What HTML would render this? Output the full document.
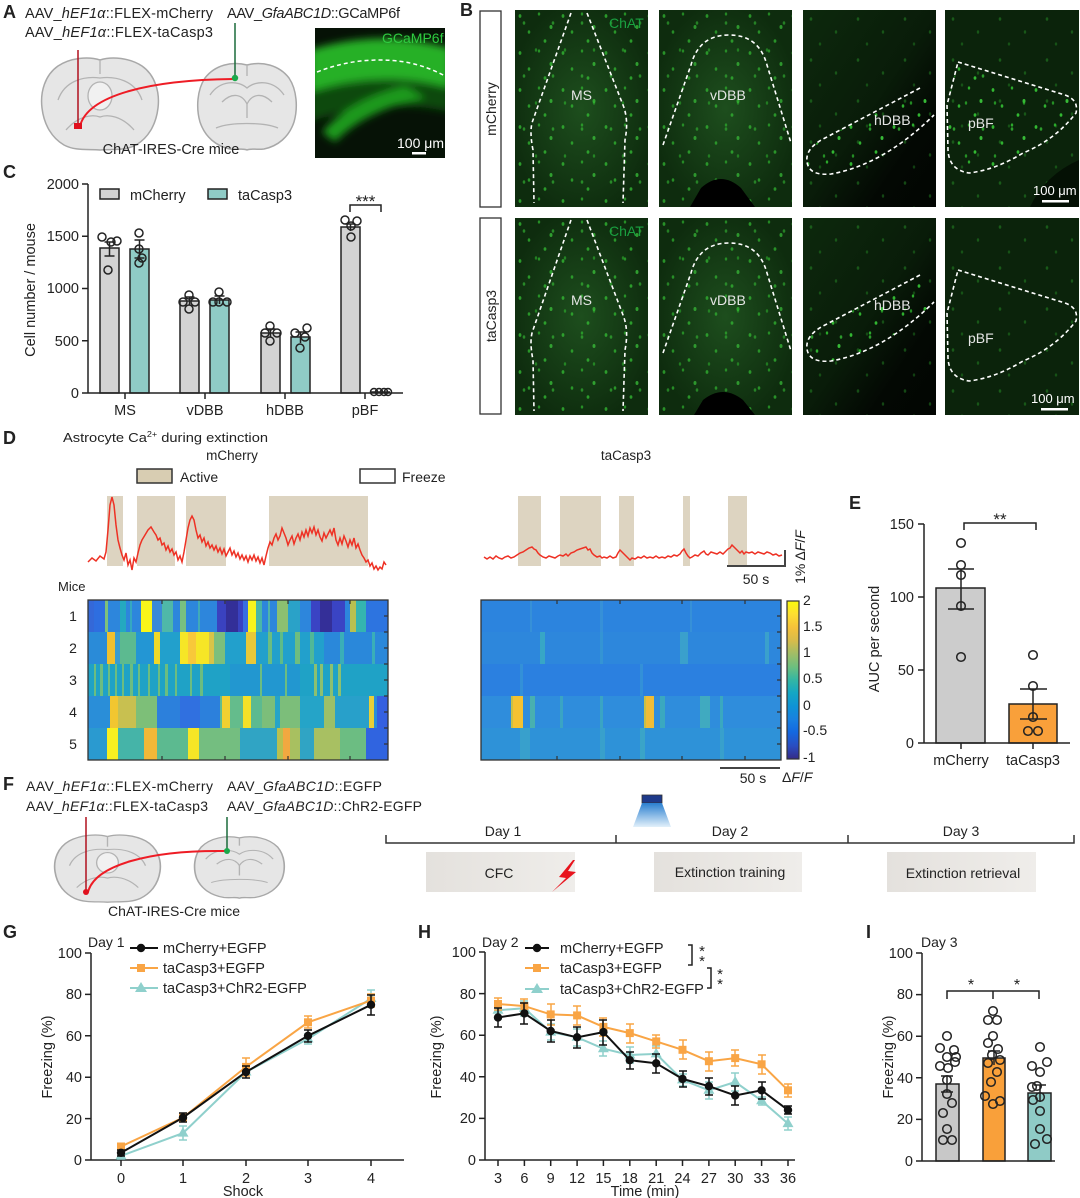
<!DOCTYPE html>
<html><head><meta charset="utf-8"><style>
html,body{margin:0;padding:0;background:#fff;}
svg{display:block;}
text{font-family:"Liberation Sans","DejaVu Sans",sans-serif;fill:#222;}
</style></head><body>
<svg width="1080" height="1198" viewBox="0 0 1080 1198" xmlns="http://www.w3.org/2000/svg">
<defs>
<filter id="bl" x="-20%" y="-20%" width="140%" height="140%"><feGaussianBlur stdDeviation="4"/></filter>
<clipPath id="cg"><rect x="315" y="28" width="130" height="130"/></clipPath>
<pattern id="cellsA" width="43" height="37" patternUnits="userSpaceOnUse">
<ellipse cx="5" cy="6" rx="1.4" ry="1.9" fill="#36c836"/><ellipse cx="24" cy="4" rx="1.2" ry="1.6" fill="#2fb82f"/><ellipse cx="36" cy="17" rx="1.5" ry="2" fill="#3ccc3c"/><ellipse cx="14" cy="22" rx="1.3" ry="1.8" fill="#33c033"/><ellipse cx="30" cy="31" rx="1.4" ry="1.8" fill="#36c836"/></pattern>
<pattern id="cellsC" width="29" height="53" patternUnits="userSpaceOnUse">
<ellipse cx="9" cy="13" rx="1.3" ry="1.8" fill="#3ad03a"/><ellipse cx="21" cy="40" rx="1.2" ry="1.7" fill="#2fbf2f"/></pattern>
<pattern id="cellsB" width="47" height="41" patternUnits="userSpaceOnUse">
<ellipse cx="8" cy="9" rx="1.3" ry="1.8" fill="#34c034"/><ellipse cx="33" cy="22" rx="1.2" ry="1.7" fill="#30b830"/><ellipse cx="17" cy="34" rx="1.2" ry="1.6" fill="#2aa82a"/></pattern>
<radialGradient id="rg" cx="0.5" cy="0.5" r="0.55"><stop offset="0" stop-color="#2a6a2a" stop-opacity="0.55"/><stop offset="1" stop-color="#2a6a2a" stop-opacity="0"/></radialGradient>
<linearGradient id="gh" x1="0" y1="0" x2="1" y2="1"><stop offset="0" stop-color="#0d290d"/><stop offset="0.5" stop-color="#091c09"/><stop offset="0.75" stop-color="#030803"/><stop offset="1" stop-color="#020502"/></linearGradient>
<linearGradient id="cb" x1="0" y1="0" x2="0" y2="1">
<stop offset="0" stop-color="#f9fb0e"/><stop offset="0.08" stop-color="#fde030"/><stop offset="0.17" stop-color="#f5c13a"/><stop offset="0.25" stop-color="#d8bb4a"/><stop offset="0.33" stop-color="#a3bd65"/><stop offset="0.42" stop-color="#6bbf80"/><stop offset="0.5" stop-color="#33b6a4"/><stop offset="0.58" stop-color="#14a7c4"/><stop offset="0.67" stop-color="#0e92d6"/><stop offset="0.75" stop-color="#1880e0"/><stop offset="0.83" stop-color="#1468e0"/><stop offset="0.92" stop-color="#2a4cc0"/><stop offset="1" stop-color="#352a87"/></linearGradient>
<linearGradient id="lg" x1="0" y1="0" x2="0" y2="1"><stop offset="0" stop-color="#2a7fd0"/><stop offset="1" stop-color="#e2f0fa"/></linearGradient>
<linearGradient id="bx" x1="0" y1="0" x2="1" y2="0"><stop offset="0" stop-color="#e4e1dd"/><stop offset="1" stop-color="#efedea"/></linearGradient>
<marker id="mc" markerWidth="10" markerHeight="10" refX="5" refY="5" markerUnits="userSpaceOnUse"><circle cx="5" cy="5" r="4.2" fill="#111"/></marker>
<marker id="ms" markerWidth="10" markerHeight="10" refX="5" refY="5" markerUnits="userSpaceOnUse"><rect x="1" y="1" width="8" height="8" fill="#f9a545"/></marker>
<marker id="mt" markerWidth="12" markerHeight="12" refX="6" refY="6.5" markerUnits="userSpaceOnUse"><path d="M6,0.5 L11.5,10 L0.5,10 Z" fill="#8fd0cc"/></marker>
<clipPath id="cH1"><path d="M117,78 L22,128 Q2,138 4,152 Q6,166 28,164 Q80,155 131,105 Z"/></clipPath>
<clipPath id="cH2"><path d="M117,57 L22,107 Q2,117 4,131 Q6,145 28,143 Q80,134 131,84 Z"/></clipPath>
<clipPath id="cP"><path d="M13,52 L120,85 Q134,90 131,103 Q110,130 78,143 Q50,160 24,163 Q4,160 3,140 L2,95 Z"/></clipPath>
</defs>

<!-- ================= A ================= -->
<text x="3" y="18" font-size="18" font-weight="bold">A</text>
<text x="25" y="18" font-size="14.5" textLength="188">AAV_<tspan font-style="italic">hEF1α</tspan>::FLEX-mCherry</text>
<text x="25" y="37" font-size="14.5" textLength="188">AAV_<tspan font-style="italic">hEF1α</tspan>::FLEX-taCasp3</text>
<text x="227" y="18" font-size="14.5" textLength="173">AAV_<tspan font-style="italic">GfaABC1D</tspan>::GCaMP6f</text>
<g fill="#e6e6e6" stroke="#a8a8a8" stroke-width="1.5">
<path d="M100,60 C88,56 70,58 58,66 C45,75 40,92 42,108 C44,125 52,138 64,145 C75,151 88,149 100,150 C112,149 125,151 136,145 C148,138 156,125 158,108 C160,92 155,75 142,66 C130,58 112,56 100,60 Z"/>
<path d="M247,65 C232,61 215,65 205,78 C197,90 196,108 200,122 C205,137 216,146 230,149 C238,150 243,148 247,150 C251,148 256,150 264,149 C278,146 289,137 294,122 C298,108 297,90 289,78 C279,65 262,61 247,65 Z"/>
</g>
<g fill="none" stroke="#b3b3b3" stroke-width="1.3">
<path d="M100,60 L100,74"/><path d="M58,100 C65,80 85,76 100,78 C115,76 135,80 142,100"/>
<ellipse cx="100" cy="96" rx="12" ry="14" fill="#f1f1f1"/>
<path d="M66,130 C78,116 92,114 100,117 C108,114 122,116 134,130"/>
<path d="M247,65 L247,76"/><path d="M210,95 C220,80 238,80 247,88 C256,80 274,80 284,95"/>
<path d="M222,102 C232,92 242,94 247,104 C252,94 262,92 272,102"/>
<path d="M247,104 L247,118"/><path d="M216,128 C230,122 264,122 278,128"/>
</g>
<line x1="78" y1="50" x2="78" y2="127" stroke="#b0101e" stroke-width="1.5"/>
<line x1="235" y1="23" x2="235" y2="78" stroke="#1a6a3a" stroke-width="1.5"/>
<path d="M80,126 C88,95 150,80 233,79" fill="none" stroke="#ee1c25" stroke-width="2"/>
<rect x="74" y="123" width="8" height="6" fill="#e0101e"/>
<circle cx="235" cy="78" r="3.2" fill="#1aa84a"/>
<text x="171" y="154" font-size="14.5" text-anchor="middle">ChAT-IRES-Cre mice</text>
<rect x="315" y="28" width="130" height="130" fill="#061206"/>
<g clip-path="url(#cg)"><g filter="url(#bl)">
<path d="M310,50 Q380,28 450,48 L450,88 Q380,70 310,92 Z" fill="#25b025"/>
<path d="M310,92 Q380,72 450,88 L450,112 Q380,96 310,122 Z" fill="#0f4a0f"/>
<path d="M322,132 Q350,100 405,86 L425,98 Q365,110 335,142 Z" fill="#1f9a1f"/>
</g></g>
<path d="M317,72 C340,63 360,60 380,60 C410,60 430,68 445,76" fill="none" stroke="#fff" stroke-width="1.5" stroke-dasharray="4,3"/>
<text x="382" y="43" font-size="14" style="fill:#2ecc40">GCaMP6f</text>
<text x="397" y="148" font-size="14" style="fill:#fff">100 μm</text>
<rect x="412" y="152" width="14" height="2.5" fill="#fff"/>

<!-- ================= B ================= -->
<text x="460" y="16" font-size="18" font-weight="bold">B</text>
<rect x="480" y="11" width="21" height="196" fill="#fff" stroke="#333" stroke-width="1.3"/>
<rect x="480" y="218" width="21" height="196" fill="#fff" stroke="#333" stroke-width="1.3"/>
<text transform="translate(496,109) rotate(-90)" font-size="14" text-anchor="middle">mCherry</text>
<text transform="translate(496,316) rotate(-90)" font-size="14" text-anchor="middle">taCasp3</text>

<!-- row1 col1 MS -->
<g transform="translate(515,10)">
<rect width="133" height="197" fill="#0e2c0e"/><rect width="133" height="197" fill="url(#rg)"/>
<rect width="133" height="197" fill="url(#cellsA)" opacity="0.7"/><rect width="133" height="197" fill="url(#cellsC)" opacity="0.55"/>
<path d="M56,3 L18,110 Q14,120 18,140 L19,193 M72,3 L108,95 Q114,110 110,130 L108,193" fill="none" stroke="#fff" stroke-width="1.6" stroke-dasharray="4,3"/>
<text x="56" y="90" font-size="14" style="fill:#e6e6e6">MS</text>
<text x="94" y="18" font-size="14" style="fill:#1aa040">ChAT</text>
</g>
<!-- row1 col2 vDBB -->
<g transform="translate(659,10)">
<rect width="133" height="197" fill="#0e2c0e"/><rect width="133" height="197" fill="url(#rg)"/>
<rect width="133" height="197" fill="url(#cellsA)" opacity="0.65"/><rect width="133" height="197" fill="url(#cellsC)" opacity="0.5"/>
<path d="M31,197 L42,178 Q62,160 82,178 L96,197 Z" fill="#000"/>
<path d="M4,135 L32,55 Q40,25 70,25 Q100,25 108,55 L132,133" fill="none" stroke="#fff" stroke-width="1.6" stroke-dasharray="4,3"/>
<text x="51" y="90" font-size="14" style="fill:#e6e6e6">vDBB</text>
</g>
<!-- row1 col3 hDBB -->
<g transform="translate(803,10)">
<rect width="133" height="197" fill="url(#gh)"/><rect width="133" height="197" fill="url(#cellsB)" opacity="0.35"/>
<g clip-path="url(#cH1)"><rect width="133" height="197" fill="url(#cellsA)" opacity="0.9"/><rect width="133" height="197" fill="url(#cellsC)" opacity="0.7"/></g>
<path d="M117,78 L22,128 Q2,138 4,152 Q6,166 28,164 Q80,155 131,105" fill="none" stroke="#fff" stroke-width="1.6" stroke-dasharray="4,3"/>
<text x="71" y="115" font-size="14" style="fill:#e6e6e6">hDBB</text>
</g>
<!-- row1 col4 pBF -->
<g transform="translate(945,10)">
<rect width="134" height="197" fill="#0b230b"/><rect width="134" height="197" fill="url(#cellsB)" opacity="0.35"/>
<g clip-path="url(#cP)"><rect width="134" height="197" fill="url(#cellsA)" opacity="0.9"/><rect width="134" height="197" fill="url(#cellsC)" opacity="0.7"/></g>
<path d="M134,150 Q100,165 85,197 L134,197 Z" fill="#041004"/>
<path d="M13,52 L120,85 Q134,90 131,103 Q110,130 78,143 Q50,160 24,163 Q4,160 3,140 L2,95 Z" fill="none" stroke="#fff" stroke-width="1.6" stroke-dasharray="4,3"/>
<text x="23" y="118" font-size="14" style="fill:#e6e6e6">pBF</text>
<text x="88" y="185" font-size="13" style="fill:#fff">100 μm</text>
<rect x="97" y="190" width="27" height="2.5" fill="#fff"/>
</g>
<!-- row2 col1 MS -->
<g transform="translate(515,218)">
<rect width="133" height="197" fill="#0e2c0e"/><rect width="133" height="197" fill="url(#rg)"/>
<rect width="133" height="197" fill="url(#cellsA)" opacity="0.7"/><rect width="133" height="197" fill="url(#cellsC)" opacity="0.55"/>
<path d="M56,2 L18,112 Q14,122 18,142 L19,193 M72,2 L108,97 Q114,112 110,132 L108,193" fill="none" stroke="#fff" stroke-width="1.6" stroke-dasharray="4,3"/>
<text x="56" y="87" font-size="14" style="fill:#e6e6e6">MS</text>
<text x="94" y="18" font-size="14" style="fill:#1aa040">ChAT</text>
</g>
<!-- row2 col2 vDBB -->
<g transform="translate(659,218)">
<rect width="133" height="197" fill="#0e2c0e"/><rect width="133" height="197" fill="url(#rg)"/>
<rect width="133" height="197" fill="url(#cellsA)" opacity="0.65"/><rect width="133" height="197" fill="url(#cellsC)" opacity="0.5"/>
<path d="M35,197 L44,182 Q64,166 84,182 L96,197 Z" fill="#000"/>
<path d="M4,135 L32,55 Q40,25 70,25 Q100,25 108,55 L132,133" fill="none" stroke="#fff" stroke-width="1.6" stroke-dasharray="4,3"/>
<text x="51" y="87" font-size="14" style="fill:#e6e6e6">vDBB</text>
</g>
<!-- row2 col3 hDBB -->
<g transform="translate(803,218)">
<rect width="133" height="197" fill="url(#gh)"/><rect width="133" height="197" fill="url(#cellsB)" opacity="0.35"/>
<g clip-path="url(#cH2)"><rect width="133" height="197" fill="url(#cellsA)" opacity="0.9"/><rect width="133" height="197" fill="url(#cellsC)" opacity="0.7"/></g>
<path d="M117,57 L22,107 Q2,117 4,131 Q6,145 28,143 Q80,134 131,84" fill="none" stroke="#fff" stroke-width="1.6" stroke-dasharray="4,3"/>
<text x="71" y="92" font-size="14" style="fill:#e6e6e6">hDBB</text>
</g>
<!-- row2 col4 pBF -->
<g transform="translate(945,218)">
<rect width="134" height="197" fill="#0b230b"/><rect width="134" height="197" fill="url(#cellsB)" opacity="0.35"/>
<path d="M13,52 L120,85 Q134,90 131,103 Q110,130 78,143 Q50,160 24,163 Q4,160 3,140 L2,95 Z" fill="none" stroke="#fff" stroke-width="1.6" stroke-dasharray="4,3"/>
<text x="23" y="125" font-size="14" style="fill:#e6e6e6">pBF</text>
<text x="86" y="185" font-size="13" style="fill:#fff">100 μm</text>
<rect x="96" y="190" width="27" height="2.5" fill="#fff"/>
</g>

<!-- ================= C ================= -->
<text x="3" y="178" font-size="18" font-weight="bold">C</text>
<g stroke="#222" stroke-width="1.5">
<rect x="100" y="248" width="19" height="145" fill="#d3d3d3"/>
<rect x="130" y="249" width="19" height="144" fill="#8fcbc6"/>
<rect x="180" y="301" width="19" height="92" fill="#d3d3d3"/>
<rect x="210" y="300" width="19" height="93" fill="#8fcbc6"/>
<rect x="261" y="333" width="19" height="60" fill="#d3d3d3"/>
<rect x="291" y="337" width="19" height="56" fill="#8fcbc6"/>
<rect x="341" y="227" width="19" height="166" fill="#d3d3d3"/>
<line x1="371" y1="392" x2="390" y2="392"/>
</g>
<path d="M88,184 V393 H403 M82,184 H88 M82,236.3 H88 M82,288.5 H88 M82,340.8 H88 M82,393 H88 M125,393 V399 M205,393 V399 M285,393 V399 M365,393 V399" fill="none" stroke="#222" stroke-width="1.5"/>
<path d="M109.5,242V256M104.5,242H114.5M104.5,256H114.5 M139.5,240V258M134.5,240H144.5M134.5,258H144.5 M189.5,297V305M184.5,297H194.5 M219.5,296V304M214.5,296H224.5 M270.5,329V337M265.5,329H275.5 M300.5,332V343M295.5,332H305.5 M350.5,224V231M345.5,224H355.5" fill="none" stroke="#222" stroke-width="1.5"/>
<g fill="none" stroke="#222" stroke-width="1.5">
<circle cx="102" cy="237" r="4"/><circle cx="111" cy="242" r="4"/><circle cx="117" cy="241" r="4"/><circle cx="108" cy="270" r="4"/>
<circle cx="139" cy="233" r="4"/><circle cx="139" cy="249" r="4"/><circle cx="142" cy="258" r="4"/><circle cx="139" cy="263" r="4"/>
<circle cx="189" cy="295" r="4"/><circle cx="183" cy="302" r="4"/><circle cx="195" cy="302" r="4"/><circle cx="189" cy="309" r="4"/>
<circle cx="219" cy="292" r="4"/><circle cx="213" cy="302" r="4"/><circle cx="227" cy="302" r="4"/><circle cx="219" cy="302" r="4"/>
<circle cx="270" cy="326" r="4"/><circle cx="265" cy="333" r="4"/><circle cx="277" cy="333" r="4"/><circle cx="270" cy="341" r="4"/>
<circle cx="307" cy="328" r="4"/><circle cx="295" cy="333" r="4"/><circle cx="305" cy="337" r="4"/><circle cx="300" cy="348" r="4"/>
<circle cx="345" cy="220" r="4"/><circle cx="357" cy="221" r="4"/><circle cx="351" cy="226" r="4"/><circle cx="351" cy="237" r="4"/>
<circle cx="374" cy="392" r="3.5"/><circle cx="379" cy="392" r="3.5"/><circle cx="384" cy="392" r="3.5"/><circle cx="388" cy="392" r="3.5"/>
</g>
<g font-size="14.5" text-anchor="end">
<text x="79" y="189">2000</text><text x="79" y="241">1500</text><text x="79" y="293">1000</text><text x="79" y="346">500</text><text x="79" y="398">0</text>
</g>
<g font-size="14.5" text-anchor="middle">
<text x="125" y="415">MS</text><text x="205" y="415">vDBB</text><text x="285" y="415">hDBB</text><text x="365" y="415">pBF</text>
</g>
<text transform="translate(35,290) rotate(-90)" font-size="14.5" text-anchor="middle">Cell number / mouse</text>
<rect x="100" y="189" width="19" height="10" fill="#d3d3d3" stroke="#222" stroke-width="1.5"/>
<text x="130" y="200" font-size="14.5">mCherry</text>
<rect x="208" y="189" width="19" height="10" fill="#8fcbc6" stroke="#222" stroke-width="1.5"/>
<text x="238" y="200" font-size="14.5">taCasp3</text>
<path d="M350,212 V205 H381 V212" fill="none" stroke="#222" stroke-width="1.5"/>
<text x="365.5" y="207" font-size="17" text-anchor="middle">***</text>

<!-- ================= D ================= -->
<text x="3" y="444" font-size="18" font-weight="bold">D</text>
<text x="63" y="442" font-size="13" textLength="205" lengthAdjust="spacingAndGlyphs">Astrocyte Ca<tspan font-size="8" dy="-5">2+</tspan><tspan dy="5"> during extinction</tspan></text>
<text x="232" y="460" font-size="13.5" text-anchor="middle">mCherry</text>
<text x="626" y="460" font-size="13.5" text-anchor="middle">taCasp3</text>
<rect x="137" y="469" width="35" height="14" fill="#d8cdb2" stroke="#333" stroke-width="1.5"/>
<text x="180" y="482" font-size="14">Active</text>
<rect x="360" y="469" width="35" height="14" fill="#fff" stroke="#333" stroke-width="1.5"/>
<text x="402" y="482" font-size="14">Freeze</text>
<g fill="#ddd4c1">
<rect x="107" y="496" width="16" height="70"/><rect x="137" y="496" width="38" height="70"/><rect x="186" y="496" width="40" height="70"/><rect x="269" y="496" width="99" height="70"/>
<rect x="518" y="496" width="23" height="70"/><rect x="560" y="496" width="41" height="70"/><rect x="619" y="496" width="15" height="70"/><rect x="683" y="496" width="7" height="70"/><rect x="728" y="496" width="19" height="70"/>
</g>
<polyline fill="none" stroke="#ee3124" stroke-width="1.5" points="88,562 92,558 96,561 100,556 104,559 106,552 108,530 110,505 112,497 114,505 116,525 118,540 120,548 122,555 124,560 126,553 128,565 130,560 132,570 134,558 136,562 138,553 140,545 142,540 145,535 148,530 151,527 154,532 156,535 158,540 160,538 162,545 164,543 166,550 168,546 170,552 172,549 174,555 176,552 178,560 180,556 182,562 184,552 186,540 188,528 190,520 192,516 194,520 196,530 198,538 200,535 202,542 204,538 206,546 208,542 210,548 212,545 214,550 216,546 218,552 220,548 222,554 224,549 226,556 228,552 230,548 232,555 234,551 236,557 238,553 240,559 242,555 244,560 246,556 248,562 250,556 252,560 254,555 256,561 258,557 260,563 262,558 264,565 266,556 268,548 270,542 272,545 274,538 276,534 278,540 280,536 282,528 284,533 286,538 288,545 290,540 292,536 294,544 296,538 298,534 300,540 302,532 304,537 306,530 308,536 310,528 312,533 314,527 316,535 318,530 320,537 322,541 324,533 326,538 328,534 330,530 332,535 334,528 336,540 338,545 340,538 342,544 344,536 346,541 348,547 350,540 352,545 354,538 356,548 358,544 360,550 362,555 364,558 366,562 368,560 370,566 372,563 374,569 376,566 378,570 380,567 382,569 384,562 386,565"/>
<polyline fill="none" stroke="#ee3124" stroke-width="1.5" points="484,557 487,559 490,557 493,559 496,556 499,558 502,559 505,557 508,556 511,558 514,557 517,555 520,553 523,552 526,550 529,548 532,547 534,549 536,550 538,553 540,555 543,557 546,558 549,556 552,557 555,558 558,556 560,555 563,556 566,554 568,556 571,553 574,552 577,550 580,549 583,548 586,547 588,550 590,549 592,553 594,555 597,557 600,556 602,558 604,557 607,558 610,556 613,558 616,557 618,553 620,550 622,552 624,554 626,556 628,558 630,560 632,558 635,559 638,557 641,558 644,556 647,558 650,557 653,558 656,556 659,558 662,557 665,558 668,556 671,557 674,555 677,556 680,554 682,551 684,549 686,553 688,556 690,558 692,557 695,555 698,556 701,553 704,551 706,554 708,555 711,552 714,553 717,554 720,552 723,554 726,551 728,549 730,548 732,545 734,547 736,549 738,551 740,553 742,551 744,554 746,552 749,553 752,552 755,554 758,552 761,553 764,554 767,552 770,553 773,555 776,554 779,556 782,555"/>
<path d="M727,566 H785 V550" fill="none" stroke="#444" stroke-width="2"/>
<text x="756" y="584" font-size="14" text-anchor="middle">50 s</text>
<text transform="translate(805,557) rotate(-90)" font-size="14" text-anchor="middle">1% Δ<tspan font-style="italic">F</tspan>/<tspan font-style="italic">F</tspan></text>
<text x="58" y="591" font-size="13">Mice</text>

<!-- left heatmap -->
<g>
<rect x="88" y="600" width="300" height="32" fill="#2d86dc"/>
<g>
<rect x="88" y="600" width="6" height="32" fill="#3468d8"/><rect x="94" y="600" width="11" height="32" fill="#2e6ee0"/><rect x="105" y="600" width="3" height="32" fill="#7fc07a"/><rect x="120" y="600" width="6" height="32" fill="#24a9c0"/><rect x="130" y="600" width="2" height="32" fill="#35a8c0"/><rect x="141" y="600" width="11" height="32" fill="#f8f51a"/><rect x="152" y="600" width="10" height="32" fill="#3a8ad8"/><rect x="162" y="600" width="11" height="32" fill="#4fb8a8"/><rect x="180" y="600" width="6" height="32" fill="#78c080"/><rect x="198" y="600" width="2" height="32" fill="#40aab8"/><rect x="217" y="600" width="26" height="32" fill="#3a42c0"/><rect x="226" y="600" width="12" height="32" fill="#332f98"/><rect x="243" y="600" width="5" height="32" fill="#3a6ee0"/><rect x="248" y="600" width="8" height="32" fill="#f8f41c"/><rect x="256" y="600" width="6" height="32" fill="#49b6a8"/><rect x="268" y="600" width="2" height="32" fill="#50b4a8"/><rect x="277" y="600" width="11" height="32" fill="#8cc070"/><rect x="288" y="600" width="12" height="32" fill="#2aa2c8"/><rect x="311" y="600" width="34" height="32" fill="#3a44c4"/><rect x="320" y="600" width="12" height="32" fill="#342f98"/><rect x="350" y="600" width="6" height="32" fill="#b8c050"/><rect x="356" y="600" width="10" height="32" fill="#34b4b0"/><rect x="366" y="600" width="22" height="32" fill="#2d74e0"/>
</g>
<rect x="88" y="632" width="300" height="32" fill="#22a0cc"/>
<g>
<rect x="88" y="632" width="19" height="32" fill="#2a8bd8"/><rect x="107" y="632" width="8" height="32" fill="#f0c030"/><rect x="115" y="632" width="5" height="32" fill="#3a9cd0"/><rect x="120" y="632" width="16" height="32" fill="#5cba90"/><rect x="136" y="632" width="18" height="32" fill="#2396d4"/><rect x="154" y="632" width="6" height="32" fill="#f0d828"/><rect x="180" y="632" width="29" height="32" fill="#f6e626"/><rect x="188" y="632" width="8" height="32" fill="#f8c83a"/><rect x="209" y="632" width="5" height="32" fill="#d8c448"/><rect x="214" y="632" width="11" height="32" fill="#7cbf7c"/><rect x="246" y="632" width="10" height="32" fill="#e8c838"/><rect x="268" y="632" width="4" height="32" fill="#6cbd80"/><rect x="280" y="632" width="3" height="32" fill="#5ebc88"/><rect x="295" y="632" width="5" height="32" fill="#6ebd80"/><rect x="310" y="632" width="4" height="32" fill="#50b898"/><rect x="324" y="632" width="64" height="32" fill="#2a88da"/><rect x="340" y="632" width="4" height="32" fill="#3aaeb8"/><rect x="372" y="632" width="3" height="32" fill="#3aaeb8"/>
</g>
<rect x="88" y="664" width="300" height="32" fill="#1fa2c6"/>
<g fill="#6cbd80">
<rect x="230" y="664" width="70" height="32" fill="#2297d0"/>
<rect x="94" y="664" width="2" height="32"/><rect x="100" y="664" width="3" height="32"/><rect x="108" y="664" width="2" height="32"/><rect x="115" y="664" width="2" height="32"/><rect x="122" y="664" width="2" height="32"/><rect x="130" y="664" width="3" height="32"/><rect x="138" y="664" width="2" height="32"/><rect x="148" y="664" width="2" height="32"/><rect x="158" y="664" width="2" height="32"/><rect x="165" y="664" width="3" height="32"/><rect x="175" y="664" width="2" height="32"/><rect x="190" y="664" width="2" height="32"/><rect x="200" y="664" width="3" height="32"/><rect x="260" y="664" width="2" height="32"/><rect x="285" y="664" width="2" height="32"/>
<rect x="314" y="664" width="3" height="32" fill="#8cc070"/><rect x="320" y="664" width="3" height="32" fill="#8cc070"/><rect x="330" y="664" width="3" height="32" fill="#8cc070"/><rect x="338" y="664" width="3" height="32" fill="#8cc070"/>
</g>
<rect x="88" y="696" width="300" height="32" fill="#2a8ed8"/>
<g>
<rect x="110" y="696" width="8" height="32" fill="#f2c630"/><rect x="118" y="696" width="18" height="32" fill="#c8c050"/><rect x="136" y="696" width="21" height="32" fill="#7dbf78"/><rect x="157" y="696" width="63" height="32" fill="#2c80dc"/><rect x="180" y="696" width="20" height="32" fill="#3070e0"/><rect x="220" y="696" width="2" height="32" fill="#60bc90"/><rect x="222" y="696" width="8" height="32" fill="#f0d030"/><rect x="230" y="696" width="13" height="32" fill="#64bc8c"/><rect x="243" y="696" width="8" height="32" fill="#f4e028"/><rect x="251" y="696" width="11" height="32" fill="#5cba90"/><rect x="262" y="696" width="38" height="32" fill="#7cbe7a"/><rect x="275" y="696" width="5" height="32" fill="#26a4c8"/><rect x="300" y="696" width="24" height="32" fill="#25a4c8"/><rect x="324" y="696" width="11" height="32" fill="#9cc068"/><rect x="335" y="696" width="34" height="32" fill="#28a0ca"/><rect x="369" y="696" width="5" height="32" fill="#e8d038"/><rect x="377" y="696" width="11" height="32" fill="#3560e0"/>
</g>
<rect x="88" y="728" width="300" height="32" fill="#27a6c4"/>
<g>
<rect x="88" y="728" width="19" height="32" fill="#2a9ad0"/><rect x="107" y="728" width="11" height="32" fill="#f8f020"/><rect x="118" y="728" width="26" height="32" fill="#45b4a8"/><rect x="144" y="728" width="13" height="32" fill="#f2b838"/><rect x="157" y="728" width="31" height="32" fill="#5cba90"/><rect x="188" y="728" width="11" height="32" fill="#f6e626"/><rect x="199" y="728" width="41" height="32" fill="#74be80"/><rect x="240" y="728" width="37" height="32" fill="#30a4c4"/><rect x="277" y="728" width="6" height="32" fill="#b8c050"/><rect x="283" y="728" width="7" height="32" fill="#f2a840"/><rect x="290" y="728" width="10" height="32" fill="#a8c060"/><rect x="300" y="728" width="14" height="32" fill="#30a4c4"/><rect x="314" y="728" width="26" height="32" fill="#a8c062"/><rect x="340" y="728" width="26" height="32" fill="#6cbd82"/><rect x="366" y="728" width="22" height="32" fill="#3064e0"/>
</g>
<rect x="88" y="600" width="300" height="160" fill="none" stroke="#333" stroke-width="1.3"/>
<path d="M162,760v-4M225,760v-4M288,760v-4M350,760v-4M162,600v4M225,600v4M288,600v4M350,600v4M388,616h-4M388,632h-4M388,648h-4M388,664h-4M388,680h-4M388,696h-4M388,712h-4M388,728h-4M388,744h-4" stroke="#333" stroke-width="1.2"/>
</g>
<g font-size="14" text-anchor="middle">
<text x="73" y="621">1</text><text x="73" y="653">2</text><text x="73" y="685">3</text><text x="73" y="717">4</text><text x="73" y="749">5</text>
</g>

<!-- right heatmap -->
<g>
<rect x="481" y="600" width="300" height="32" fill="#2c84de"/>
<rect x="481" y="632" width="300" height="32" fill="#2d87dc"/>
<rect x="481" y="664" width="300" height="32" fill="#2b80e0"/>
<rect x="481" y="696" width="300" height="32" fill="#2f8ddc"/>
<rect x="481" y="728" width="300" height="32" fill="#2e92d8"/>
<rect x="530" y="600" width="2" height="32" fill="#3690d8"/><rect x="600" y="600" width="3" height="32" fill="#3690d8"/><rect x="690" y="600" width="2" height="32" fill="#3690d8"/>
<rect x="540" y="632" width="5" height="32" fill="#37a6c6"/><rect x="600" y="632" width="3" height="32" fill="#3494d4"/><rect x="680" y="632" width="8" height="32" fill="#3aa0cc"/><rect x="765" y="632" width="4" height="32" fill="#3aa0cc"/>
<rect x="520" y="664" width="3" height="32" fill="#3390d8"/><rect x="640" y="664" width="3" height="32" fill="#3390d8"/>
<rect x="511" y="696" width="2" height="32" fill="#c8c048"/><rect x="513" y="696" width="10" height="32" fill="#f4c232"/><rect x="530" y="696" width="5" height="32" fill="#48b0b0"/><rect x="560" y="696" width="3" height="32" fill="#3aa4c4"/><rect x="600" y="696" width="3" height="32" fill="#3aa4c4"/><rect x="644" y="696" width="2" height="32" fill="#c8c048"/><rect x="646" y="696" width="8" height="32" fill="#f0bc38"/><rect x="660" y="696" width="5" height="32" fill="#3aa8c0"/><rect x="700" y="696" width="10" height="32" fill="#40aac0"/><rect x="720" y="696" width="3" height="32" fill="#3aa8c0"/>
<rect x="520" y="728" width="10" height="32" fill="#38a0cc"/><rect x="600" y="728" width="5" height="32" fill="#38a0cc"/><rect x="640" y="728" width="5" height="32" fill="#3aa4c8"/><rect x="720" y="728" width="4" height="32" fill="#38a0cc"/>
<rect x="481" y="600" width="300" height="160" fill="none" stroke="#333" stroke-width="1.3"/>
<path d="M557,760v-4M620,760v-4M682,760v-4M745,760v-4M557,600v4M620,600v4M682,600v4M745,600v4M781,616h-4M781,632h-4M781,648h-4M781,664h-4M781,680h-4M781,696h-4M781,712h-4M781,728h-4M781,744h-4" stroke="#333" stroke-width="1.2"/>
</g>
<rect x="787" y="601" width="12" height="158" fill="url(#cb)" stroke="#333" stroke-width="1.2"/>
<g font-size="14">
<text x="803" y="605">2</text><text x="803" y="631">1.5</text><text x="803" y="657">1</text><text x="803" y="683">0.5</text><text x="803" y="710">0</text><text x="803" y="735">-0.5</text><text x="803" y="762">-1</text>
</g>
<line x1="720" y1="768" x2="780" y2="768" stroke="#444" stroke-width="2"/>
<text x="753" y="783" font-size="14" text-anchor="middle">50 s</text>
<text x="782" y="782" font-size="14">Δ<tspan font-style="italic">F</tspan>/<tspan font-style="italic">F</tspan></text>

<!-- ================= E ================= -->
<text x="849" y="509" font-size="18" font-weight="bold">E</text>
<rect x="936" y="588" width="49" height="155" fill="#cccccc" stroke="#222" stroke-width="1.5"/>
<rect x="1009" y="704" width="48" height="39" fill="#f9a03a" stroke="#222" stroke-width="1.5"/>
<path d="M924,524 V743 H1070 M918,524 H924 M918,597 H924 M918,670 H924 M918,743 H924 M961,743 V749 M1033,743 V749" fill="none" stroke="#222" stroke-width="1.5"/>
<path d="M961,569V609M948,569H974M948,609H974 M1033,689V719M1020,689H1047M1020,719H1047" fill="none" stroke="#222" stroke-width="1.5"/>
<g fill="none" stroke="#222" stroke-width="1.5">
<circle cx="961" cy="543" r="4.3"/><circle cx="961" cy="565" r="4.3"/><circle cx="961" cy="575" r="4.3"/><circle cx="961" cy="606" r="4.3"/><circle cx="961" cy="657" r="4.3"/>
<circle cx="1033" cy="655" r="4.3"/><circle cx="1033" cy="686" r="4.3"/><circle cx="1033" cy="717" r="4.3"/><circle cx="1028" cy="731" r="4.3"/><circle cx="1038" cy="731" r="4.3"/>
</g>
<g font-size="14.5" text-anchor="end">
<text x="914" y="529">150</text><text x="914" y="602">100</text><text x="914" y="675">50</text><text x="914" y="748">0</text>
</g>
<text x="961" y="765" font-size="14.5" text-anchor="middle">mCherry</text>
<text x="1033" y="765" font-size="14.5" text-anchor="middle">taCasp3</text>
<text transform="translate(879,639) rotate(-90)" font-size="14.5" text-anchor="middle">AUC per second</text>
<path d="M964,530 V523 H1036 V530" fill="none" stroke="#222" stroke-width="1.5"/>
<text x="1000" y="525" font-size="17" text-anchor="middle">**</text>

<!-- ================= F ================= -->
<text x="3" y="790" font-size="18" font-weight="bold">F</text>
<text x="26" y="791" font-size="14" textLength="187">AAV_<tspan font-style="italic">hEF1α</tspan>::FLEX-mCherry</text>
<text x="26" y="811" font-size="14" textLength="182">AAV_<tspan font-style="italic">hEF1α</tspan>::FLEX-taCasp3</text>
<text x="227" y="791" font-size="14" textLength="155">AAV_<tspan font-style="italic">GfaABC1D</tspan>::EGFP</text>
<text x="227" y="811" font-size="14" textLength="195">AAV_<tspan font-style="italic">GfaABC1D</tspan>::ChR2-EGFP</text>
<g transform="translate(55,835) scale(0.905,0.73) translate(-42,-58)">
<path d="M100,60 C88,56 70,58 58,66 C45,75 40,92 42,108 C44,125 52,138 64,145 C75,151 88,149 100,150 C112,149 125,151 136,145 C148,138 156,125 158,108 C160,92 155,75 142,66 C130,58 112,56 100,60 Z" fill="#e6e6e6" stroke="#a8a8a8" stroke-width="1.8"/>
<g fill="none" stroke="#b3b3b3" stroke-width="1.5"><path d="M100,60 L100,74"/><path d="M58,100 C65,80 85,76 100,78 C115,76 135,80 142,100"/><ellipse cx="100" cy="96" rx="12" ry="14" fill="#f1f1f1"/><path d="M66,130 C78,116 92,114 100,117 C108,114 122,116 134,130"/></g>
</g>
<g transform="translate(193,835) scale(0.91,0.71) translate(-196,-61)">
<path d="M247,65 C232,61 215,65 205,78 C197,90 196,108 200,122 C205,137 216,146 230,149 C238,150 243,148 247,150 C251,148 256,150 264,149 C278,146 289,137 294,122 C298,108 297,90 289,78 C279,65 262,61 247,65 Z" fill="#e6e6e6" stroke="#a8a8a8" stroke-width="1.8"/>
<g fill="none" stroke="#b3b3b3" stroke-width="1.5"><path d="M247,65 L247,76"/><path d="M210,95 C220,80 238,80 247,88 C256,80 274,80 284,95"/><path d="M222,102 C232,92 242,94 247,104 C252,94 262,92 272,102"/><path d="M247,104 L247,118"/><path d="M216,128 C230,122 264,122 278,128"/></g>
</g>
<line x1="86" y1="817" x2="86" y2="893" stroke="#b0101e" stroke-width="1.5"/>
<line x1="227" y1="817" x2="227" y2="851" stroke="#1a6a3a" stroke-width="1.5"/>
<path d="M88,892 C95,865 150,850 225,851" fill="none" stroke="#ee1c25" stroke-width="2"/>
<circle cx="86" cy="892" r="3" fill="#e0101e"/>
<circle cx="227" cy="851" r="3" fill="#1aa84a"/>
<text x="174" y="916" font-size="14" text-anchor="middle">ChAT-IRES-Cre mice</text>
<rect x="642" y="795" width="20" height="8" fill="#1e3a8a" stroke="#333" stroke-width="0.8"/>
<path d="M642,803 L662,803 L671,827 L633,827 Z" fill="url(#lg)"/>
<path d="M386,835 V843 H1074 V835 M616,835 V843 M848,835 V843" fill="none" stroke="#333" stroke-width="1.5"/>
<g font-size="14" text-anchor="middle">
<text x="503" y="836">Day 1</text><text x="730" y="836">Day 2</text><text x="961" y="836">Day 3</text>
</g>
<rect x="426" y="852" width="149" height="40" fill="url(#bx)"/>
<rect x="654" y="852" width="148" height="40" fill="url(#bx)"/>
<rect x="887" y="852" width="149" height="40" fill="url(#bx)"/>
<path d="M573,860 L559,877 L566,878 L552,892 L576,872 L568,871 L575,860 Z" fill="#e8141e"/>
<g font-size="14" text-anchor="middle">
<text x="499" y="878">CFC</text><text x="730" y="877">Extinction training</text><text x="963" y="878">Extinction retrieval</text>
</g>

<!-- ================= G ================= -->
<text x="3" y="938" font-size="18" font-weight="bold">G</text>
<text x="88" y="947" font-size="14">Day 1</text>
<path d="M91,953 V1160 H404 M85,953 H91 M85,994.4 H91 M85,1035.8 H91 M85,1077.2 H91 M85,1118.6 H91 M85,1160 H91 M121,1160 V1166 M183,1160 V1166 M246,1160 V1166 M308,1160 V1166 M371,1160 V1166" fill="none" stroke="#222" stroke-width="1.5"/>
<g font-size="14.5" text-anchor="end">
<text x="82" y="958">100</text><text x="82" y="999">80</text><text x="82" y="1041">60</text><text x="82" y="1082">40</text><text x="82" y="1124">20</text><text x="82" y="1165">0</text>
</g>
<g font-size="14.5" text-anchor="middle">
<text x="121" y="1183">0</text><text x="183" y="1183">1</text><text x="246" y="1183">2</text><text x="308" y="1183">3</text><text x="371" y="1183">4</text>
<text x="243" y="1196">Shock</text>
</g>
<text transform="translate(52,1057) rotate(-90)" font-size="14.5" text-anchor="middle">Freezing (%)</text>
<path d="M121,1153V1159M117,1153H125M117,1159H125 M183,1126V1140M179,1126H187M179,1140H187 M246,1066V1078 M308,1034V1044M304,1034H312M304,1044H312 M371,990V1007M367,990H375M367,1007H375" fill="none" stroke="#8fd0cc" stroke-width="1.5"/>
<polyline points="121,1155.9 183,1133.1 246,1072 308,1038.9 371,998.5" fill="none" stroke="#8fd0cc" stroke-width="2" marker-start="url(#mt)" marker-mid="url(#mt)" marker-end="url(#mt)"/>
<path d="M121,1144V1149 M183,1114V1121 M246,1058V1076M242,1058H250M242,1076H250 M308,1016V1028M304,1016H312M304,1028H312 M371,994V1007M367,994H375M367,1007H375" fill="none" stroke="#f9a545" stroke-width="1.5"/>
<polyline points="121,1146.5 183,1117.6 246,1066.9 308,1022.3 371,1000.6" fill="none" stroke="#f9a545" stroke-width="2" marker-start="url(#ms)" marker-mid="url(#ms)" marker-end="url(#ms)"/>
<path d="M121,1150V1156M117,1150H125M117,1156H125 M183,1113V1122M179,1113H187M179,1122H187 M246,1066V1078M242,1066H250M242,1078H250 M308,1030V1042M304,1030H312M304,1042H312 M371,995V1015M367,995H375M367,1015H375" fill="none" stroke="#111" stroke-width="1.5"/>
<polyline points="121,1152.8 183,1117.6 246,1072 308,1035.8 371,1004.8" fill="none" stroke="#111" stroke-width="2" marker-start="url(#mc)" marker-mid="url(#mc)" marker-end="url(#mc)"/>
<line x1="130" y1="948" x2="158" y2="948" stroke="#111" stroke-width="2"/><circle cx="141" cy="948" r="4.2" fill="#111"/>
<line x1="130" y1="968" x2="158" y2="968" stroke="#f9a545" stroke-width="2"/><rect x="137" y="964" width="8" height="8" fill="#f9a545"/>
<line x1="130" y1="988" x2="158" y2="988" stroke="#8fd0cc" stroke-width="2"/><path d="M141,982 L147,992 L135,992 Z" fill="#8fd0cc"/>
<g font-size="14.5">
<text x="163" y="953">mCherry+EGFP</text><text x="163" y="973">taCasp3+EGFP</text><text x="163" y="993">taCasp3+ChR2-EGFP</text>
</g>

<!-- ================= H ================= -->
<text x="418" y="938" font-size="18" font-weight="bold">H</text>
<text x="482" y="947" font-size="14">Day 2</text>
<path d="M485,952 V1160 H795 M479,952 H485 M479,993.6 H485 M479,1035.2 H485 M479,1076.8 H485 M479,1118.4 H485 M479,1160 H485 M498,1160v6 M524.4,1160v6 M550.7,1160v6 M577.1,1160v6 M603.4,1160v6 M629.8,1160v6 M656.2,1160v6 M682.5,1160v6 M708.9,1160v6 M735.2,1160v6 M761.6,1160v6 M788,1160v6" fill="none" stroke="#222" stroke-width="1.5"/>
<g font-size="14.5" text-anchor="end">
<text x="476" y="957">100</text><text x="476" y="999">80</text><text x="476" y="1040">60</text><text x="476" y="1082">40</text><text x="476" y="1123">20</text><text x="476" y="1165">0</text>
</g>
<g font-size="14.5" text-anchor="middle">
<text x="498" y="1183">3</text><text x="524.4" y="1183">6</text><text x="550.7" y="1183">9</text><text x="577.1" y="1183">12</text><text x="603.4" y="1183">15</text><text x="629.8" y="1183">18</text><text x="656.2" y="1183">21</text><text x="682.5" y="1183">24</text><text x="708.9" y="1183">27</text><text x="735.2" y="1183">30</text><text x="761.6" y="1183">33</text><text x="788" y="1183">36</text>
<text x="645" y="1196">Time (min)</text>
</g>
<text transform="translate(441,1057) rotate(-90)" font-size="14.5" text-anchor="middle">Freezing (%)</text>
<path d="M498,1002V1019M494,1002H502M494,1019H502 M524,1001V1016M520,1001H528M520,1016H528 M551,1024V1040M547,1024H555M547,1040H555 M577,1029V1046M573,1029H581M573,1046H581 M603,1041V1056M599,1041H607M599,1056H607 M630,1047V1063M626,1047H634M626,1063H634 M656,1046V1062M652,1046H660M652,1062H660 M683,1074V1086M679,1074H687M679,1086H687 M709,1082V1099M705,1082H713M705,1099H713 M735,1073V1091M731,1073H739M731,1091H739 M762,1097V1105M758,1097H766M758,1105H766 M788,1117V1130M784,1117H792M784,1130H792" fill="none" stroke="#8fd0cc" stroke-width="1.5"/>
<polyline points="498,1010.2 524.4,1008.2 550.7,1032.1 577.1,1037.3 603.4,1048.7 629.8,1055 656.2,1053.9 682.5,1079.9 708.9,1090.3 735.2,1082 761.6,1100.7 788,1123.6" fill="none" stroke="#8fd0cc" stroke-width="2" marker-start="url(#mt)" marker-mid="url(#mt)" marker-end="url(#mt)"/>
<path d="M498,998V1010M494,998H502M494,1010H502 M524,999V1013M520,999H528M520,1013H528 M551,1004V1025M547,1004H555M547,1025H555 M577,1006V1025M573,1006H581M573,1025H581 M603,1018V1036M599,1018H607M599,1036H607 M630,1024V1043M626,1024H634M626,1043H634 M656,1035V1048M652,1035H660M652,1048H660 M683,1040V1059M679,1040H687M679,1059H687 M709,1052V1071M705,1052H713M705,1071H713 M735,1050V1066M731,1050H739M731,1066H739 M762,1055V1074M758,1055H766M758,1074H766 M788,1084V1097M784,1084H792M784,1097H792" fill="none" stroke="#f9a545" stroke-width="1.5"/>
<polyline points="498,1004 524.4,1006.1 550.7,1014.4 577.1,1015.4 603.4,1026.9 629.8,1033.1 656.2,1041.4 682.5,1049.8 708.9,1061.2 735.2,1058.1 761.6,1064.3 788,1090.3" fill="none" stroke="#f9a545" stroke-width="2" marker-start="url(#ms)" marker-mid="url(#ms)" marker-end="url(#ms)"/>
<path d="M498,1008V1027M494,1008H502M494,1027H502 M524,1003V1024M520,1003H528M520,1024H528 M551,1020V1042M547,1020H555M547,1042H555 M577,1027V1048M573,1027H581M573,1048H581 M603,1020V1045M599,1020H607M599,1045H607 M630,1052V1069M626,1052H634M626,1069H634 M656,1054V1073M652,1054H660M652,1073H660 M683,1071V1087M679,1071H687M679,1087H687 M709,1078V1095M705,1078H713M705,1095H713 M735,1086V1105M731,1086H739M731,1105H739 M762,1082V1099M758,1082H766M758,1099H766 M788,1106V1114M784,1106H792M784,1114H792" fill="none" stroke="#111" stroke-width="1.5"/>
<polyline points="498,1017.5 524.4,1013.4 550.7,1031 577.1,1037.3 603.4,1032.1 629.8,1060.2 656.2,1063.3 682.5,1078.9 708.9,1086.2 735.2,1095.5 761.6,1090.3 788,1110.1" fill="none" stroke="#111" stroke-width="2" marker-start="url(#mc)" marker-mid="url(#mc)" marker-end="url(#mc)"/>
<line x1="525" y1="948" x2="549" y2="948" stroke="#111" stroke-width="2"/><circle cx="537" cy="948" r="4.2" fill="#111"/>
<line x1="525" y1="968" x2="549" y2="968" stroke="#f9a545" stroke-width="2"/><rect x="533" y="964" width="8" height="8" fill="#f9a545"/>
<line x1="525" y1="989" x2="549" y2="989" stroke="#8fd0cc" stroke-width="2"/><path d="M537,983 L543,993 L531,993 Z" fill="#8fd0cc"/>
<g font-size="14.5">
<text x="560" y="953">mCherry+EGFP</text><text x="560" y="973">taCasp3+EGFP</text><text x="560" y="994">taCasp3+ChR2-EGFP</text>
</g>
<path d="M688,945 H692 V965 H688 M707,968 H711 V988 H707" fill="none" stroke="#222" stroke-width="1.5"/>
<g font-size="15" text-anchor="middle">
<text x="702" y="956">*</text><text x="702" y="966">*</text><text x="720" y="979">*</text><text x="720" y="989">*</text>
</g>

<!-- ================= I ================= -->
<text x="866" y="938" font-size="18" font-weight="bold">I</text>
<text x="921" y="947" font-size="14">Day 3</text>
<rect x="936" y="1084" width="23" height="77" fill="#c8c8c8" stroke="#222" stroke-width="1.5"/>
<rect x="983" y="1058" width="22" height="103" fill="#f9a03a" stroke="#222" stroke-width="1.5"/>
<rect x="1028" y="1093" width="23" height="68" fill="#8fcbc6" stroke="#222" stroke-width="1.5"/>
<path d="M922,953 V1161 H1055 M916,953 H922 M916,994.6 H922 M916,1036.2 H922 M916,1077.8 H922 M916,1119.4 H922 M916,1161 H922" fill="none" stroke="#222" stroke-width="1.5"/>
<path d="M947,1076V1092M941,1076H953M941,1092H953 M994,1051V1065M988,1051H1000 M1040,1085V1102M1034,1085H1046" fill="none" stroke="#222" stroke-width="1.5"/>
<g fill="none" stroke="#222" stroke-width="1.5">
<circle cx="947" cy="1036" r="4.3"/><circle cx="940" cy="1048" r="4.3"/><circle cx="954" cy="1050" r="4.3"/><circle cx="947" cy="1057" r="4.3"/><circle cx="956" cy="1057" r="4.3"/><circle cx="940" cy="1066" r="4.3"/><circle cx="948" cy="1068" r="4.3"/><circle cx="955" cy="1062" r="4.3"/><circle cx="947" cy="1080" r="4.3"/><circle cx="947" cy="1094" r="4.3"/><circle cx="952" cy="1103" r="4.3"/><circle cx="943" cy="1113" r="4.3"/><circle cx="947" cy="1129" r="4.3"/><circle cx="943" cy="1140" r="4.3"/><circle cx="952" cy="1140" r="4.3"/>
<circle cx="993" cy="1011" r="4.3"/><circle cx="988" cy="1020" r="4.3"/><circle cx="997" cy="1020" r="4.3"/><circle cx="993" cy="1036" r="4.3"/><circle cx="988" cy="1043" r="4.3"/><circle cx="998" cy="1049" r="4.3"/><circle cx="992" cy="1055" r="4.3"/><circle cx="1000" cy="1060" r="4.3"/><circle cx="988" cy="1063" r="4.3"/><circle cx="997" cy="1072" r="4.3"/><circle cx="991" cy="1082" r="4.3"/><circle cx="985" cy="1096" r="4.3"/><circle cx="1000" cy="1101" r="4.3"/><circle cx="993" cy="1104" r="4.3"/>
<circle cx="1040" cy="1047" r="4.3"/><circle cx="1032" cy="1066" r="4.3"/><circle cx="1047" cy="1062" r="4.3"/><circle cx="1040" cy="1072" r="4.3"/><circle cx="1032" cy="1087" r="4.3"/><circle cx="1037" cy="1086" r="4.3"/><circle cx="1040" cy="1097" r="4.3"/><circle cx="1033" cy="1100" r="4.3"/><circle cx="1040" cy="1111" r="4.3"/><circle cx="1040" cy="1129" r="4.3"/><circle cx="1047" cy="1139" r="4.3"/><circle cx="1035" cy="1144" r="4.3"/>
</g>
<g font-size="14.5" text-anchor="end">
<text x="913" y="958">100</text><text x="913" y="999">80</text><text x="913" y="1041">60</text><text x="913" y="1083">40</text><text x="913" y="1124">20</text><text x="913" y="1166">0</text>
</g>
<text transform="translate(893,1057) rotate(-90)" font-size="14.5" text-anchor="middle">Freezing (%)</text>
<path d="M947,999 V991 H1039 V999 M993,991 V999" fill="none" stroke="#222" stroke-width="1.5"/>
<g font-size="16" text-anchor="middle"><text x="971" y="990">*</text><text x="1017" y="990">*</text></g>
</svg>
</body></html>
